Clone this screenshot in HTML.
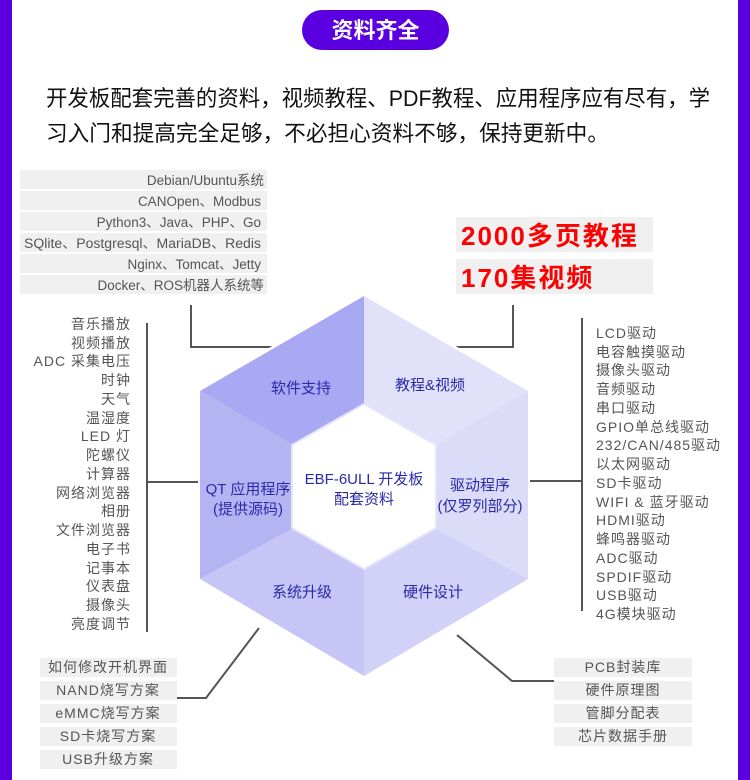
<!DOCTYPE html>
<html><head><meta charset="utf-8"><style>
html,body{margin:0;padding:0;background:#fff}
svg{display:block}
text{font-family:"Liberation Sans","Noto Sans CJK SC",sans-serif}
.l{font-size:14px;fill:#555;letter-spacing:1px}
.t{font-size:13.5px;fill:#555}
.h{font-size:15px;fill:#2a2aa8}
</style></head><body>
<svg width="750" height="780" viewBox="0 0 750 780" xmlns="http://www.w3.org/2000/svg">
<rect x="0" y="0" width="12" height="780" fill="#5a00e0"/>
<rect x="738" y="0" width="12" height="780" fill="#5a00e0"/>
<rect x="302" y="10" width="147" height="40" rx="20" fill="#5a00e0"/>
<text x="375.5" y="38" text-anchor="middle" font-size="22" font-weight="bold" fill="#fff">资料齐全</text>
<text x="46" y="106" font-size="22" fill="#111" textLength="664" lengthAdjust="spacingAndGlyphs">开发板配套完善的资料，视频教程、PDF教程、应用程序应有尽有，学</text>
<text x="46" y="141" font-size="22" fill="#111" textLength="563" lengthAdjust="spacingAndGlyphs">习入门和提高完全足够，不必担心资料不够，保持更新中。</text>
<g fill="#f0f0f0">
<rect x="20" y="170" width="247" height="19"/><rect x="20" y="191" width="247" height="19"/><rect x="20" y="212" width="247" height="19"/><rect x="20" y="233" width="247" height="19"/><rect x="20" y="254" width="247" height="19"/><rect x="20" y="275" width="247" height="19"/>
<rect x="456" y="217" width="197" height="35"/><rect x="456" y="259" width="197" height="35"/>
<rect x="40" y="658" width="137" height="19"/><rect x="40" y="681" width="137" height="19"/><rect x="40" y="704" width="137" height="19"/><rect x="40" y="727" width="137" height="19"/><rect x="40" y="750" width="137" height="19"/>
<rect x="554" y="658" width="138" height="19"/><rect x="554" y="681" width="138" height="19"/><rect x="554" y="704" width="138" height="19"/><rect x="554" y="727" width="138" height="19"/>
</g>
<g class="t" text-anchor="end">
<text x="264" y="185">Debian/Ubuntu系统</text><text x="261" y="206">CANOpen、Modbus</text><text x="261" y="227">Python3、Java、PHP、Go</text><text x="261" y="248" textLength="237" lengthAdjust="spacingAndGlyphs">SQlite、Postgresql、MariaDB、Redis</text><text x="261" y="269">Nginx、Tomcat、Jetty</text><text x="264" y="290">Docker、ROS机器人系统等</text>
</g>
<text x="461" y="245" font-size="26" font-weight="bold" fill="#f00" letter-spacing="2">2000多页教程</text>
<text x="461" y="287" font-size="26" font-weight="bold" fill="#f00" letter-spacing="2">170集视频</text>
<g class="l" text-anchor="end">
<text x="131" y="329">音乐播放</text><text x="131" y="348">视频播放</text><text x="131" y="366">ADC 采集电压</text><text x="131" y="385">时钟</text><text x="131" y="404">天气</text><text x="131" y="423">温湿度</text><text x="131" y="441">LED 灯</text><text x="131" y="460">陀螺仪</text><text x="131" y="479">计算器</text><text x="131" y="498">网络浏览器</text><text x="131" y="516">相册</text><text x="131" y="535">文件浏览器</text><text x="131" y="554">电子书</text><text x="131" y="573">记事本</text><text x="131" y="591">仪表盘</text><text x="131" y="610">摄像头</text><text x="131" y="629">亮度调节</text>
</g>
<g class="l">
<text x="596" y="338">LCD驱动</text><text x="596" y="357">电容触摸驱动</text><text x="596" y="375">摄像头驱动</text><text x="596" y="394">音频驱动</text><text x="596" y="413">串口驱动</text><text x="596" y="432">GPIO单总线驱动</text><text x="596" y="450">232/CAN/485驱动</text><text x="596" y="469">以太网驱动</text><text x="596" y="488">SD卡驱动</text><text x="596" y="507">WIFI &amp; 蓝牙驱动</text><text x="596" y="525">HDMI驱动</text><text x="596" y="544">蜂鸣器驱动</text><text x="596" y="563">ADC驱动</text><text x="596" y="582">SPDIF驱动</text><text x="596" y="600">USB驱动</text><text x="596" y="619">4G模块驱动</text>
</g>
<g class="l" text-anchor="middle">
<text x="108" y="672">如何修改开机界面</text><text x="108" y="695">NAND烧写方案</text><text x="108" y="718">eMMC烧写方案</text><text x="108" y="741">SD卡烧写方案</text><text x="108" y="764">USB升级方案</text>
<text x="623" y="672">PCB封装库</text><text x="623" y="695">硬件原理图</text><text x="623" y="718">管脚分配表</text><text x="623" y="741">芯片数据手册</text>
</g>
<g stroke="#555" stroke-width="2" fill="none">
<polyline points="191,305 191,347 278,347"/>
<polyline points="513,305 513,347 452,347"/>
<line x1="147" y1="323" x2="147" y2="632"/><line x1="147" y1="482" x2="200" y2="482"/>
<line x1="582" y1="318" x2="582" y2="611"/><line x1="528" y1="481" x2="582" y2="481"/>
<polyline points="177,698 206,698 259,628"/>
<polyline points="457,635 512,681 554,681"/>
</g>
<polygon points="364,293 530,389 530,581 364,679 198,581 198,389" fill="#fff"/>
<g stroke="none">
<polygon points="364,296 364,407 295,446 200,391" fill="#a9a8f2"/>
<polygon points="364,296 528,391 433,446 364,407" fill="#e2e1fa"/>
<polygon points="528,391 528,579 433,527 433,446" fill="#dcdbf8"/>
<polygon points="528,579 364,676 364,566 433,527" fill="#d2d1f7"/>
<polygon points="364,676 200,579 295,527 364,566" fill="#c6c5f5"/>
<polygon points="200,579 200,391 295,446 295,527" fill="#b5b4f3"/>
</g>
<polygon points="364,404 436,445 436,528 364,569 292,528 292,445" fill="#fff" stroke="#e6e6fa" stroke-width="2"/>
<g class="h" text-anchor="middle">
<text x="301" y="393">软件支持</text><text x="430" y="390">教程&amp;视频</text>
<text x="248" y="494">QT 应用程序</text><text x="248" y="514">(提供源码)</text>
<text x="480" y="490">驱动程序</text><text x="480" y="511">(仅罗列部分)</text>
<text x="302" y="597">系统升级</text><text x="433" y="597">硬件设计</text>
<text x="364" y="484">EBF-6ULL 开发板</text><text x="364" y="504">配套资料</text>
</g>
</svg>
</body></html>
